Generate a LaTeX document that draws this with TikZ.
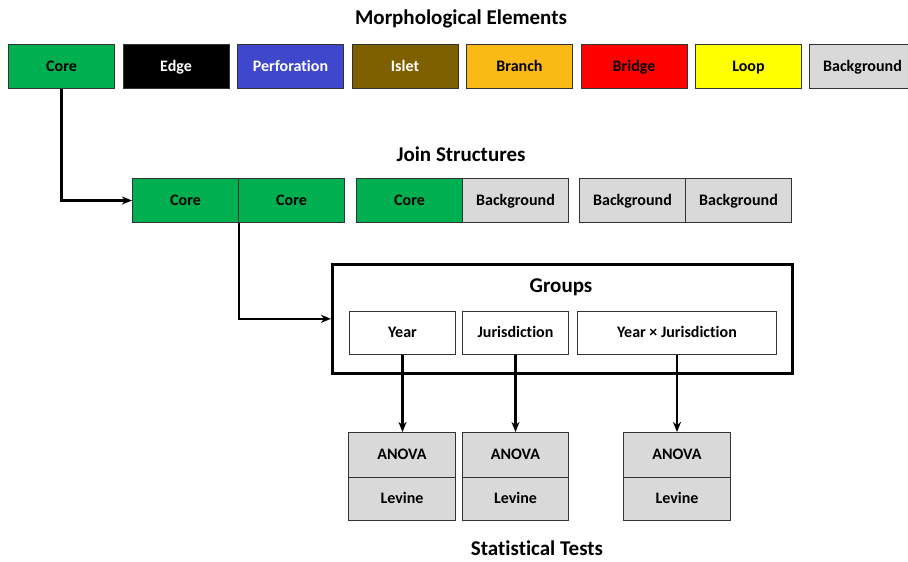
\documentclass[tikz,border=0pt]{standalone}
\usepackage{fontspec}
\setmainfont{Carlito}[Ligatures=NoCommon]
\usetikzlibrary{arrows.meta}
\definecolor{cgreen}{HTML}{00B050}
\definecolor{cblue}{HTML}{3F48CC}
\definecolor{cbrown}{HTML}{7F6000}
\definecolor{corange}{HTML}{FAB914}
\definecolor{cred}{HTML}{FF0000}
\definecolor{cyellow}{HTML}{FFFF00}
\definecolor{cgray}{HTML}{D9D9D9}
\definecolor{cline}{HTML}{333333}
\begin{document}
\begin{tikzpicture}[x=1pt,y=-1pt,
  box/.style={draw=cline, line width=1pt, minimum width=#1, minimum height=44pt, inner sep=0pt, anchor=north west, text height=12.5pt, text depth=3.5pt, font=\bfseries\fontsize{16}{18}\selectfont},
  box/.default=106pt,
  title/.style={font=\bfseries\fontsize{21}{24}\selectfont, inner sep=0pt, text height=15pt, text depth=4pt},
  conn/.style={line width=2.2pt, -{Stealth[length=10pt,width=8pt,inset=3pt]}},
]
\useasboundingbox (0,0) rectangle (908,562);

\node[title] (tmorph) at (461,18.5) {Morphological Elements};
\node[box, fill=cgreen] (core) at (8,44) {Core};
\node[box, fill=black, text=white] (edge) at (122.5,44) {Edge};
\node[box, fill=cblue, text=white] (perf) at (237,44) {Perforation};
\node[box, fill=cbrown, text=white] (islet) at (351.5,44) {Islet};
\node[box, fill=corange] (branch) at (466,44) {Branch};
\node[box, fill=cred] (bridge) at (580.5,44) {Bridge};
\node[box, fill=cyellow] (loop) at (695,44) {Loop};
\node[box, fill=cgray] (bg) at (809,44) {Background};

\node[title] (tjoin) at (461,155.5) {Join Structures};
\node[box, fill=cgreen] (j1) at (132,178) {Core};
\node[box, fill=cgreen] (j2) at (238,178) {Core};
\node[box, fill=cgreen] (j3) at (356,178) {Core};
\node[box, fill=cgray] (j4) at (462,178) {Background};
\node[box, fill=cgray] (j5) at (579,178) {Background};
\node[box, fill=cgray] (j6) at (685,178) {Background};

\node[draw=black, line width=2.6pt, minimum width=460pt, minimum height=109pt, inner sep=0pt, anchor=north west] (groups) at (331,263) {};
\node[title] (tgroups) at (561,287) {Groups};
\node[box, fill=white, minimum height=43pt] (year) at (349,311) {Year};
\node[box, fill=white, minimum height=43pt] (jur) at (462,311) {Jurisdiction};
\node[box=199pt, fill=white, minimum height=43pt] (yxj) at (577,311) {Year × Jurisdiction};

\node[box=107pt, fill=cgray, minimum height=45pt] (a1) at (348,432) {ANOVA};
\node[box=107pt, fill=cgray, minimum height=43pt] (l1) at (348,477) {Levine};
\node[box, fill=cgray, minimum height=45pt] (a2) at (462,432) {ANOVA};
\node[box, fill=cgray, minimum height=43pt] (l2) at (462,477) {Levine};
\node[box=107pt, fill=cgray, minimum height=45pt] (a3) at (623,432) {ANOVA};
\node[box=107pt, fill=cgray, minimum height=43pt] (l3) at (623,477) {Levine};

\node[title] (tstat) at (537,549.5) {Statistical Tests};

\draw[conn] (core.south) |- (j1.west);
\draw[conn] (j1.south east) |- (groups.west);
\draw[conn] (year.south) -- (year.south |- a1.north);
\draw[conn] (jur.south) -- (jur.south |- a2.north);
\draw[conn] (yxj.south) -- (yxj.south |- a3.north);
\end{tikzpicture}
\end{document}
